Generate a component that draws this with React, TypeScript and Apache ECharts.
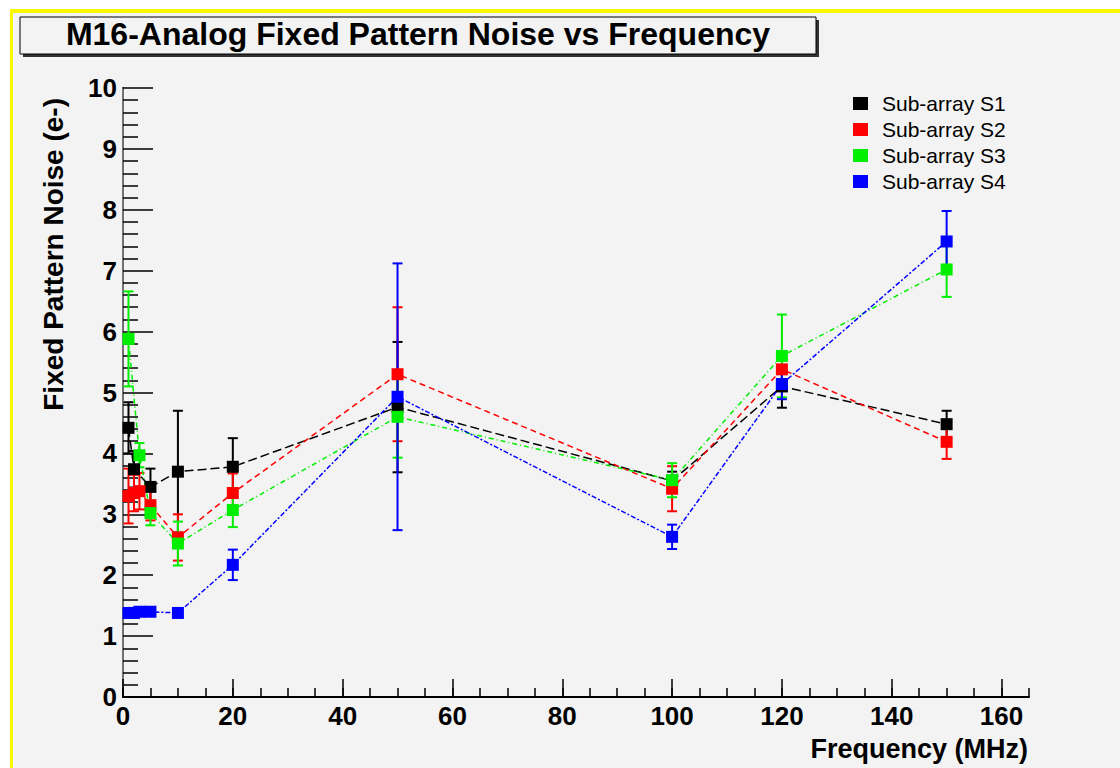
import React, { useEffect, useRef } from "react";
import * as echarts from "echarts";

// Frequencies (MHz)
const freqs = [1, 2, 3, 5, 10, 20, 50, 100, 120, 150];

// Fixed pattern noise (e-) per sub-array, null = no point
const s1 = [4.42, 3.74, null, 3.45, 3.7, 3.78, 4.76, 3.55, 5.1, 4.48];
const s1Err = [0.42, 0.3, null, 0.3, 1.0, 0.47, 1.07, 0.15, 0.35, 0.22];
const s2 = [3.3, 3.35, 3.38, 3.15, 2.62, 3.35, 5.3, 3.42, 5.38, 4.19];
const s2Err = [0.45, 0.3, 0.3, 0.25, 0.38, 0.32, 1.1, 0.37, 0.3, 0.28];
const s3 = [5.88, null, 3.97, 3.02, 2.52, 3.07, 4.6, 3.56, 5.6, 7.02];
const s3Err = [0.78, null, 0.2, 0.2, 0.36, 0.28, 0.67, 0.28, 0.68, 0.45];
const s4 = [1.38, 1.38, 1.4, 1.4, 1.38, 2.17, 4.93, 2.63, 5.14, 7.48];
const s4Err = [0.05, 0.05, 0.05, 0.05, 0.05, 0.25, 2.19, 0.2, 0.25, 0.5];

const seriesNames = ["Sub-array S1", "Sub-array S2", "Sub-array S3", "Sub-array S4"];
const seriesColors = ["#000000", "#ff0000", "#00ee00", "#0000ff"];
const seriesDash = [
  [9, 4],
  [6, 4],
  [5, 3, 1, 3],
  [2, 2, 5, 2],
];

const xMajorTicks = [0, 20, 40, 60, 80, 100, 120, 140, 160];
const yTicks = [0, 1, 2, 3, 4, 5, 6, 7, 8, 9, 10];

const FONT = "Liberation Sans, Arial, Helvetica, sans-serif";
const BG = "#f3f3f3";

function pairs(vals: (number | null)[]) {
  const out: number[][] = [];
  vals.forEach((v, i) => {
    if (v !== null) out.push([freqs[i], v]);
  });
  return out;
}
function errTriples(vals: (number | null)[], errs: (number | null)[]) {
  const out: number[][] = [];
  vals.forEach((v, i) => {
    const e = errs[i];
    if (v !== null && e !== null) out.push([freqs[i], v, e]);
  });
  return out;
}

export default function App() {
  const ref = useRef<HTMLDivElement>(null);
  useEffect(() => {
    if (!ref.current) return;
    const chart = echarts.init(ref.current, null, { renderer: "svg" });
    const allVals = [s1, s2, s3, s4];
    const allErrs = [s1Err, s2Err, s3Err, s4Err];
    const series: any[] = [];
    allVals.forEach((vals, k) => {
      const color = seriesColors[k];
      series.push({
        name: seriesNames[k],
        type: "line",
        xAxisIndex: 0,
        yAxisIndex: 0,
        data: pairs(vals),
        symbol: "rect",
        symbolSize: 12,
        showAllSymbol: true,
        itemStyle: { color },
        lineStyle: { color, width: 1.5, type: seriesDash[k] },
        emphasis: { disabled: true },
        z: 3,
      });
      series.push({
        name: seriesNames[k] + " err",
        type: "custom",
        xAxisIndex: 0,
        yAxisIndex: 0,
        data: errTriples(vals, allErrs[k]),
        encode: { x: 0, y: 1 },
        z: 3,
        silent: true,
        renderItem: (params: any, api: any) => {
          const x = api.value(0);
          const y = api.value(1);
          const e = api.value(2);
          const top = api.coord([x, y + e]);
          const bot = api.coord([x, y - e]);
          const hw = 5;
          const st = { stroke: color, lineWidth: 2 };
          return {
            type: "group",
            children: [
              { type: "line", shape: { x1: top[0], y1: top[1], x2: bot[0], y2: bot[1] }, style: st },
              { type: "line", shape: { x1: top[0] - hw, y1: top[1], x2: top[0] + hw, y2: top[1] }, style: st },
              { type: "line", shape: { x1: bot[0] - hw, y1: bot[1], x2: bot[0] + hw, y2: bot[1] }, style: st },
            ],
          };
        },
      });
    });

    const option: any = {
      animation: false,
      backgroundColor: "#ffffff",
      grid: { left: 123, right: 91, top: 88, bottom: 71 },
      legend: {
        data: seriesNames.map((n) => ({ name: n, icon: "rect" })),
        orient: "vertical",
        left: 853,
        top: 93,
        padding: 0,
        itemWidth: 15,
        itemHeight: 13,
        itemGap: 5,
        selectedMode: false,
        textStyle: {
          fontFamily: FONT,
          fontSize: 21,
          color: "#000",
          padding: [0, 0, 0, 9],
        },
      },
      xAxis: [
        {
          type: "value",
          min: 0,
          max: 165,
          interval: 20,
          axisLine: { lineStyle: { color: "#000", width: 2 } },
          axisTick: {
            inside: true,
            length: 18,
            customValues: xMajorTicks,
            lineStyle: { color: "#000", width: 1.5 },
          },
          splitLine: { show: false },
          axisLabel: {
            customValues: xMajorTicks,
            fontFamily: FONT,
            fontSize: 26,
            fontWeight: "bold",
            color: "#000",
            margin: 6,
          },
        },
        {
          type: "value",
          min: 0,
          max: 165,
          interval: 5,
          position: "bottom",
          axisLine: { show: false },
          axisTick: { inside: true, length: 9, lineStyle: { color: "#000", width: 1.5 } },
          axisLabel: { show: false },
          splitLine: { show: false },
        },
      ],
      yAxis: [
        {
          type: "value",
          min: 0,
          max: 10,
          interval: 1,
          axisLine: { show: true, lineStyle: { color: "#000", width: 2 } },
          axisTick: {
            inside: true,
            length: 30,
            customValues: yTicks,
            lineStyle: { color: "#000", width: 1.5 },
          },
          minorTick: { show: true, splitNumber: 5, length: 15, lineStyle: { color: "#000", width: 1.5 } },
          splitLine: { show: false },
          minorSplitLine: { show: false },
          axisLabel: {
            fontFamily: FONT,
            fontSize: 26,
            fontWeight: "bold",
            color: "#000",
            margin: 6,
          },
        },
        {
          type: "value",
          min: 0,
          max: 10,
          position: "right",
          axisLine: { show: true, lineStyle: { color: "#999", width: 1.5 } },
          axisTick: { show: false },
          axisLabel: { show: false },
          splitLine: { show: false },
        },
      ],
      graphic: [
        { type: "rect", z: -10, silent: true, shape: { x: 10, y: 9, width: 1110, height: 759 }, style: { fill: BG } },
        { type: "rect", z: -9, silent: true, shape: { x: 10, y: 9, width: 1110, height: 4 }, style: { fill: "#f8f800" } },
        { type: "rect", z: -9, silent: true, shape: { x: 10, y: 9, width: 3, height: 759 }, style: { fill: "#f8f800" } },
        { type: "rect", z: 10, silent: true, shape: { x: 23, y: 20, width: 796, height: 37 }, style: { fill: "#333" } },
        {
          type: "rect",
          z: 11,
          silent: true,
          shape: { x: 20, y: 17, width: 796, height: 37 },
          style: { fill: BG, stroke: "#000", lineWidth: 1 },
        },
        {
          type: "text",
          z: 12,
          silent: true,
          x: 418,
          y: 34,
          style: {
            text: "M16-Analog Fixed Pattern Noise vs Frequency",
            font: `bold 32px ${FONT}`,
            fill: "#000",
            align: "center",
            verticalAlign: "middle",
          },
        },
        {
          type: "text",
          z: 12,
          silent: true,
          x: 53,
          y: 98,
          rotation: Math.PI / 2,
          style: {
            text: "Fixed Pattern Noise (e-)",
            font: `bold 28px ${FONT}`,
            fill: "#000",
            align: "right",
            verticalAlign: "middle",
          },
        },
        {
          type: "text",
          z: 12,
          silent: true,
          x: 1028,
          y: 749,
          style: {
            text: "Frequency (MHz)",
            font: `bold 27px ${FONT}`,
            fill: "#000",
            align: "right",
            verticalAlign: "middle",
          },
        },
      ],
      series,
    };
    chart.setOption(option);
    return () => chart.dispose();
  }, []);
  return (
    <div
      ref={ref}
      style={{ position: "absolute", left: 0, top: 0, width: 1120, height: 768 }}
    />
  );
}
